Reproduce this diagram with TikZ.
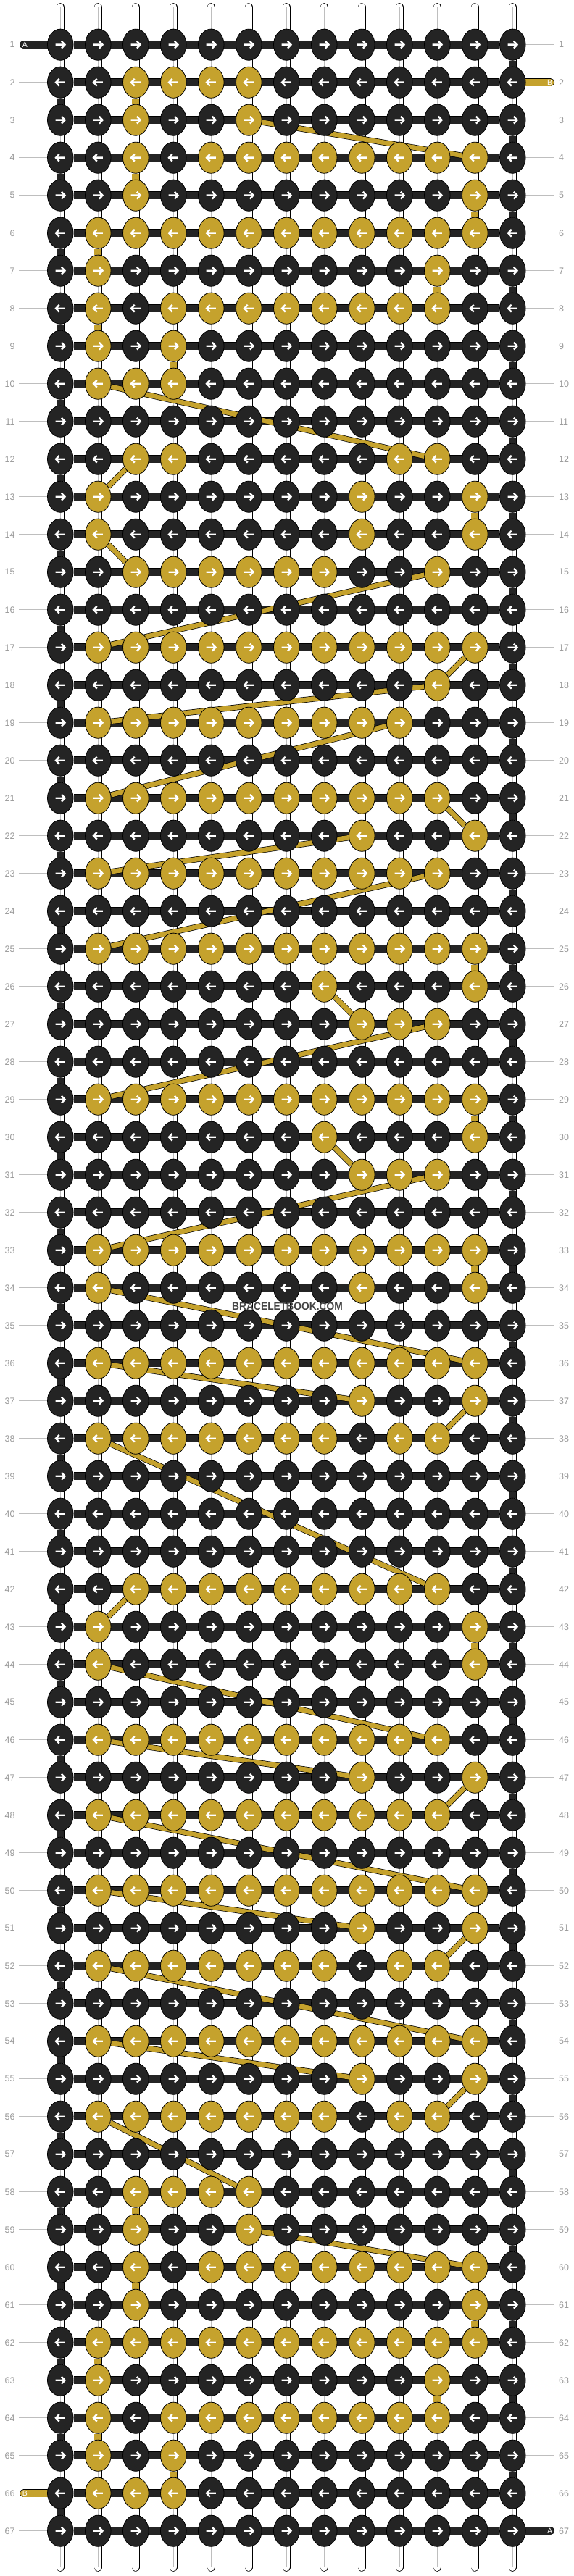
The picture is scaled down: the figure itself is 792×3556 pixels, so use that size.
\documentclass[tikz,border=0pt]{standalone}
\usepackage{fontspec}
\setmainfont{Liberation Sans}
\usetikzlibrary{shapes.geometric}
\pgfdeclarelayer{strands}
\pgfdeclarelayer{bars}
\pgfdeclarelayer{links}
\pgfsetlayers{strands,bars,links,main}
\definecolor{knotdark}{HTML}{242424}
\definecolor{knotyellow}{HTML}{C5A22D}
\definecolor{numgray}{HTML}{9A9A9A}
\definecolor{tickgray}{HTML}{BEBEBE}
\definecolor{markgray}{HTML}{444444}

\newcommand\yellowknots{2/{3,4,5,6},3/{3,6},4/{3,5,6,7,8,9,10,11,12},5/{3,12},6/{2,...,12},
  7/{2,11},8/{2,4,5,6,7,8,9,10,11},9/{2,4},10/{2,3,4},12/{3,4,10,11},13/{2,9,12},14/{2,9,12},
  15/{3,4,5,6,7,8,11},17/{2,...,12},18/{11},19/{2,...,10},21/{2,...,11},22/{9,12},23/{2,...,11},
  25/{2,...,12},26/{8,12},27/{9,10,11},29/{2,...,12},30/{8,12},31/{9,10,11},33/{2,...,12},
  34/{2,9,12},36/{2,...,12},37/{9,12},38/{2,3,4,5,6,7,8,10,11},42/{3,...,11},43/{2,12},44/{2,12},
  46/{2,...,11},47/{9,12},48/{2,...,11},50/{2,...,12},51/{9,12},52/{2,3,4,5,6,7,8,10,11},
  54/{2,...,12},55/{9,12},56/{2,3,4,5,6,7,8,10,11},58/{3,4,5,6},59/{3,6},60/{3,5,6,7,8,9,10,11,12},
  61/{3,12},62/{2,...,12},63/{2,11},64/{2,4,5,6,7,8,9,10,11},65/{2,4},66/{2,3,4}}
\newcommand\yellowdrops{2/3,4/3,5/12,6/2,7/11,8/2,9/4,13/12,25/12,29/12,33/12,43/12,
  58/3,60/3,61/12,62/2,63/11,64/2,65/4}
\newcommand\yellowfloats{3/6/4/12,10/2/12/11,12/3/13/2,14/2/15/3,15/11/17/2,17/12/18/11,
  18/11/19/2,19/10/21/2,21/11/22/12,22/9/23/2,23/11/25/2,26/8/27/9,27/11/29/2,30/8/31/9,
  31/11/33/2,34/2/36/12,36/2/37/9,37/12/38/11,38/2/42/11,42/3/43/2,44/2/46/11,46/2/47/9,
  47/12/48/11,48/2/50/12,50/2/51/9,51/12/52/11,52/2/54/12,54/2/55/9,55/12/56/11,56/2/58/6,
  59/6/60/12}

\tikzset{
  knot/.style={ellipse, draw=black, line width=0.8pt, minimum width=35.6pt, minimum height=43.2pt, inner sep=0pt},
  arrowstroke/.style={white, line width=2.4pt, line join=miter},
  pics/arrowR/.style={code={\draw[arrowstroke] (-6.6,0) -- (6,0) (1.6,-4.9) -- (6.2,0) -- (1.6,4.9);}},
  strand/.style={draw=black, line width=0.7pt, double=white, double distance=10.2pt, line cap=round},
  strandmid/.style={draw=tickgray, line width=0.6pt},
  seg/.style={draw=black, line width=0.7pt, double=#1, double distance=10.2pt},
  bar/.style={draw=black, line width=0.7pt, double=#1, double distance=9.8pt},
  floatlink/.style={draw=black, line width=0.7pt, double=knotyellow, double distance=6.6pt},
  rownum/.style={text=numgray, font=\fontsize{12.5}{12.5}\selectfont, inner sep=0pt},
  rowtick/.style={draw=tickgray, line width=1pt},
  tag/.style={text=white, font=\fontsize{10.5}{10.5}\selectfont, inner sep=0pt},
}

\begin{document}
\begin{tikzpicture}[x=1pt, y=-1pt]
  \useasboundingbox (0,0) rectangle (792,3556);
  \foreach \r/\cs in \yellowknots {\foreach \c in \cs {\expandafter\gdef\csname yk-\r-\c\endcsname{}}}

  % knots
  \foreach \r in {1,...,67} {
    \foreach \c in {1,...,13} {
      \ifcsname yk-\r-\c\endcsname \def\kcol{knotyellow}\else \def\kcol{knotdark}\fi
      \node[knot, fill=\kcol] (k-\r-\c) at ({31.3+52*\c},{9.7+52*\r}) {};
      \ifodd\r\relax \pic at (k-\r-\c) {arrowR}; \else \pic[xscale=-1] at (k-\r-\c) {arrowR}; \fi
    }
    \node[rownum, anchor=east] (ln-\r) at (20.8,{9.7+52*\r}) {\r};
    \node[rownum, anchor=west] (rn-\r) at (771,{9.7+52*\r}) {\r};
  }

  \begin{pgfonlayer}{strands}
    \foreach \c in {1,...,13} {
      \coordinate (top-\c) at ({31.3+52*\c},10);
      \coordinate (bot-\c) at ({31.3+52*\c},3544);
      \draw[strand] (top-\c) -- (bot-\c);
      \draw[strandmid] (top-\c) -- (bot-\c);
    }
    \foreach \r in {1,...,67} {
      \ifnum\r=1\relax\else\ifnum\r=66\relax\else
        \draw[rowtick] (ln-\r.east) ++(5.2,0) -- (k-\r-1.west);
      \fi\fi
      \ifnum\r=2\relax\else\ifnum\r=67\relax\else
        \draw[rowtick] (k-\r-13.east) -- ([xshift=-5.7pt]rn-\r.west);
      \fi\fi
    }
  \end{pgfonlayer}

  \begin{pgfonlayer}{bars}
    \foreach \r [evaluate=\r as \rn using int(\r+1)] in {1,...,66} {
      \ifodd\r\relax \draw[seg=knotdark] (k-\r-13) -- (k-\rn-13);
      \else \draw[seg=knotdark] (k-\r-1) -- (k-\rn-1); \fi
    }
    \foreach \r/\c [evaluate=\r as \rn using int(\r+1)] in \yellowdrops
      \draw[seg=knotyellow] (k-\r-\c) -- (k-\rn-\c);
    \foreach \r in {1,...,67}
      \draw[bar=knotdark] (k-\r-1) -- (k-\r-13);
    \coordinate (tailA-in) at (32.6,61.7);
    \coordinate (tailB-in) at (759.4,113.7);
    \coordinate (tailB-out) at (32.6,3441.7);
    \coordinate (tailA-out) at (759.4,3493.7);
    \draw[bar=knotdark, line cap=round] (tailA-in) -- (k-1-1);
    \draw[bar=knotyellow, line cap=round] (k-2-13) -- (tailB-in);
    \draw[bar=knotyellow, line cap=round] (tailB-out) -- (k-66-1);
    \draw[bar=knotdark, line cap=round] (k-67-13) -- (tailA-out);
  \end{pgfonlayer}

  \begin{pgfonlayer}{links}
    \foreach \ra/\ca/\rb/\cb in \yellowfloats
      \draw[floatlink] (k-\ra-\ca) -- (k-\rb-\cb);
  \end{pgfonlayer}

  \node[tag] (tagA-in) at (34.3,62) {A};
  \node[tag] (tagB-in) at (758.7,114) {B};
  \node[tag] (tagB-out) at (34.3,3442) {B};
  \node[tag] (tagA-out) at (758.7,3494) {A};

  \node[text=markgray, inner sep=0pt, font=\bfseries\fontsize{15}{15}\selectfont] (wmark) at (396.5,1803.4)
    {\scalebox{0.92}[1]{BRACELETBOOK.COM}};
\end{tikzpicture}
\end{document}
